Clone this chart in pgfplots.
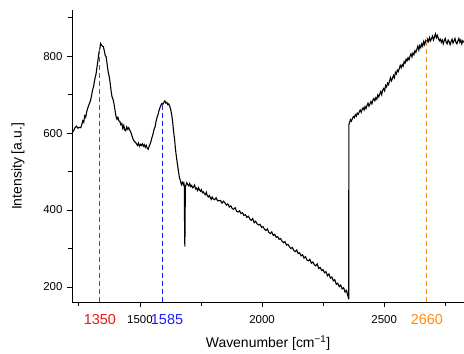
\documentclass[border=0pt]{standalone}
\usepackage{pgfplots}
\pgfplotsset{compat=1.18}
\usepackage{fontspec}
\setmainfont{Liberation Sans}
\definecolor{myred}{RGB}{245,20,20}
\definecolor{myblue}{RGB}{30,30,245}
\definecolor{myorange}{RGB}{255,140,20}
\begin{document}
\begin{tikzpicture}
\path[use as bounding box] (0,0) rectangle (464bp,354bp);
\begin{axis}[
 at={(72bp,52bp)}, anchor=south west,
 scale only axis, width=392bp, height=292bp,
 xmin=1222, xmax=2827, ymin=161, ymax=920,
 axis x line*=bottom, axis y line*=left,
 axis line style={line width=0.8pt, -},
 tick align=outside,
 xtick={1500,2000,2500}, minor xtick={1250,1750,2250,2750},
 ytick={200,400,600,800}, minor ytick={300,500,700,900},
 major tick length=5bp, minor tick length=4bp,
 every tick/.style={black, line width=0.8pt},
 /pgf/number format/assume math mode=true,
 /pgf/number format/1000 sep={},
 ticklabel style={font=\fontsize{11.5}{13}\selectfont},
 xticklabel style={yshift=-5bp},
 yticklabel style={xshift=-1bp},
 xlabel={Wavenumber [cm\textsuperscript{−1}]},
 ylabel={Intensity [a.u.]},
 label style={font=\fontsize{14}{16}\selectfont},
 xlabel style={at={(axis description cs:0.5,-0.14)}, anchor=center},
 ylabel style={at={(axis description cs:-0.138,0.464)}, anchor=center},
 extra x ticks={1336,1611,2675},
 extra x tick labels={\textcolor{myred}{1350},\textcolor{myblue}{1585},\textcolor{myorange}{2660}},
 extra x tick style={major tick length=0pt, xticklabel style={font=\fontsize{14.5}{16}\selectfont, yshift=-4bp}},
]
\addplot[black, line width=1.1bp] table {
1222 601
1228 605
1234 614
1240 618
1246 613
1252 615
1258 614
1262 622
1266 632
1270 628
1274 645
1278 641
1282 655
1286 664
1290 672
1294 678
1298 685
1302 697
1306 712
1310 720
1314 735
1318 748
1320 752
1324 770
1328 788
1332 808
1336 820
1339 833
1342 830
1346 826
1350 825
1354 815
1358 802
1362 798
1366 778
1370 760
1374 748
1378 732
1382 710
1386 694
1390 688
1394 676
1398 660
1402 644
1406 636
1410 641
1414 632
1418 630
1422 622
1426 625
1430 612
1434 620
1438 608
1442 606
1446 616
1450 610
1454 614
1458 608
1462 604
1466 596
1470 588
1474 582
1478 578
1482 576
1486 572
1490 568
1494 574
1498 566
1502 571
1506 568
1510 572
1514 566
1518 570
1522 563
1526 568
1530 561
1534 558
1538 566
1542 572
1546 580
1550 590
1554 598
1558 610
1562 616
1566 630
1570 640
1574 648
1578 658
1582 666
1586 672
1590 677
1594 675
1598 680
1602 684
1606 678
1610 680
1614 674
1618 676
1622 670
1626 662
1630 648
1634 630
1638 604
1642 584
1646 556
1650 536
1654 518
1658 500
1662 484
1666 476
1670 466
1674 472
1678 466
1680 470
1682 462
1683 350
1684 305
1685 360
1686 462
1688 464
1692 471
1696 466
1700 463
1704 469
1708 461
1712 464
1716 458
1720 460
1724 465
1728 455
1732 457
1736 451
1740 458
1744 452
1748 449
1752 453
1756 445
1760 447
1764 443
1768 440
1772 446
1776 437
1780 434
1784 438
1788 433
1792 428
1796 434
1800 429
1806 427
1812 432
1818 424
1830 425
1836 418
1842 423
1848 419
1854 413
1860 416
1866 408
1872 411
1878 404
1884 402
1890 406
1896 397
1902 395
1908 398
1914 391
1920 393
1926 386
1932 388
1938 381
1944 384
1950 377
1956 373
1962 378
1968 367
1974 371
1980 364
1986 361
1992 363
1998 355
2004 357
2010 350
2016 347
2022 351
2028 342
2034 339
2040 343
2046 334
2052 337
2058 329
2064 331
2070 324
2076 326
2082 319
2088 315
2094 318
2100 309
2106 311
2112 305
2118 300
2124 303
2130 295
2136 292
2142 296
2148 287
2154 289
2160 281
2166 284
2172 275
2178 279
2184 270
2190 268
2196 272
2202 262
2208 265
2214 258
2220 255
2226 260
2232 248
2238 251
2244 243
2250 245
2256 237
2262 240
2268 229
2274 234
2280 223
2286 226
2292 216
2298 219
2304 207
2310 210
2316 201
2322 205
2328 195
2334 198
2340 187
2346 191
2350 180
2354 172
2355 168
2355.5 621
2358 627
2362 635
2366 631
2370 638
2374 643
2378 640
2382 648
2386 644
2390 652
2394 649
2398 655
2402 660
2406 654
2410 662
2414 666
2418 660
2422 669
2426 664
2430 672
2434 678
2438 670
2442 676
2446 682
2450 676
2454 686
2458 690
2462 684
2466 692
2470 688
2474 699
2478 694
2482 702
2486 708
2490 700
2494 712
2498 716
2502 710
2506 724
2510 720
2514 730
2518 726
2522 735
2526 744
2530 736
2534 742
2538 750
2542 744
2546 758
2550 754
2554 764
2558 760
2562 768
2566 776
2570 770
2574 778
2578 774
2582 786
2586 782
2590 792
2594 788
2598 796
2602 791
2606 800
2610 806
2614 798
2618 808
2622 804
2626 814
2630 810
2634 818
2638 826
2642 816
2646 828
2650 822
2654 832
2658 826
2662 838
2666 830
2670 840
2674 834
2678 844
2682 838
2686 848
2690 840
2694 846
2698 852
2702 842
2706 850
2710 858
2714 848
2718 854
2722 846
2726 840
2730 844
2734 836
2738 842
2742 832
2746 840
2750 846
2754 836
2758 832
2762 842
2766 838
2770 830
2774 838
2778 844
2782 834
2786 840
2790 846
2794 836
2798 832
2802 840
2806 846
2810 836
2814 842
2818 832
2822 840
2826 836
};
\addplot[myred, line width=0.9bp, dash pattern=on 5bp off 3bp] coordinates {(1336,161) (1336,826)};
\addplot[myblue, line width=0.9bp, dash pattern=on 5bp off 3bp] coordinates {(1591,161) (1591,678)};
\addplot[myorange, line width=0.9bp, dash pattern=on 5bp off 3bp] coordinates {(2673,161) (2673,850)};
\end{axis}
\end{tikzpicture}
\end{document}
